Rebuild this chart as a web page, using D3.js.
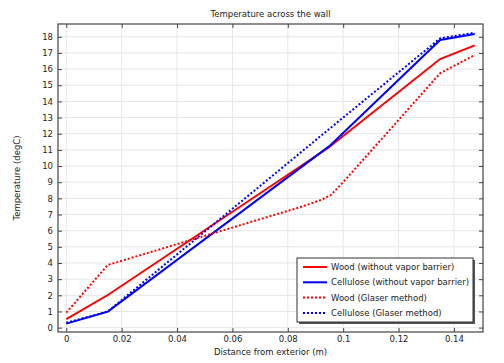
<!DOCTYPE html>
<html>
<head>
<meta charset="utf-8">
<script src="https://cdn.jsdelivr.net/npm/d3@7"></script>
<style>
  body { margin: 0; background: #fff; }
  text { font-family: "DejaVu Sans", sans-serif; fill: #222; }
</style>
</head>
<body>
<svg id="chart" width="504" height="363"></svg>
<script>
// --- data
const xTicks = [0, 0.02, 0.04, 0.06, 0.08, 0.1, 0.12, 0.14];
const yTicks = d3.range(0, 19);

const woodX = [0, 0.015, 0.095, 0.135, 0.1475];
const woodT = [0.52, 2.02, 11.18, 16.62, 17.47];

const celluloseX = [0, 0.015, 0.095, 0.135, 0.1475];
const celluloseT = [0.25, 0.99, 11.23, 17.8, 18.17];

const woodGlaserX = [0, 0.015, 0.0844, 0.092, 0.0955, 0.1, 0.135, 0.1475];
const woodGlaserT = [0.93, 3.88, 7.45, 7.9, 8.2, 9.0, 15.74, 16.87];

const celluloseGlaserX = [0, 0.015, 0.095, 0.135, 0.1475];
const celluloseGlaserT = [0.3, 1.0, 12.3, 17.9, 18.25];

const seriesNames = [
    'Wood (without vapor barrier)',
    'Cellulose (without vapor barrier)',
    'Wood (Glaser method)',
    'Cellulose (Glaser method)'
];
const seriesColors = ['#ff0000', '#0000ff', '#ff0000', '#0000ff'];
const seriesDotted = [false, false, true, true];

function drawChart() {
    const svg = d3.select('#chart');
    const m = { left: 58, right: 483, top: 24, bottom: 332 };

    const x = d3.scaleLinear().domain([-0.003, 0.1505]).range([m.left, m.right]);
    const y = d3.scaleLinear().domain([-0.27, 18.79]).range([m.bottom, m.top]);

    // grid
    const grid = svg.append('g').attr('stroke', '#e6e6e6').attr('stroke-width', 1);
    grid.selectAll('.gx').data(xTicks).enter().append('line')
        .attr('x1', d => x(d)).attr('x2', d => x(d))
        .attr('y1', m.top).attr('y2', m.bottom);
    grid.selectAll('.gy').data(yTicks).enter().append('line')
        .attr('x1', m.left).attr('x2', m.right)
        .attr('y1', d => y(d)).attr('y2', d => y(d));

    // series
    const all = [
        [woodX, woodT],
        [celluloseX, celluloseT],
        [woodGlaserX, woodGlaserT],
        [celluloseGlaserX, celluloseGlaserT]
    ];
    const lineFn = d3.line().x(d => x(d[0])).y(d => y(d[1]));
    svg.append('clipPath').attr('id', 'clip')
        .append('rect').attr('x', m.left).attr('y', m.top)
        .attr('width', m.right - m.left).attr('height', m.bottom - m.top);

    const plot = svg.append('g').attr('clip-path', 'url(#clip)');
    all.forEach((s, i) => {
        const pts = s[0].map((v, k) => [v, s[1][k]]);
        plot.append('path')
            .datum(pts)
            .attr('fill', 'none')
            .attr('stroke', seriesColors[i])
            .attr('stroke-width', 2)
            .attr('stroke-dasharray', seriesDotted[i] ? '2,2' : null)
            .attr('d', lineFn);
    });

    // axes with inner ticks on all four sides
    const tickLen = 4;
    const axB = d3.axisBottom(x).tickValues(xTicks).tickSizeInner(-tickLen).tickSizeOuter(0).tickPadding(4)
        .tickFormat(d => d === 0 ? '0' : d3.format('.2~f')(d));
    const axT = d3.axisTop(x).tickValues(xTicks).tickSizeInner(-tickLen).tickSizeOuter(0).tickFormat('');
    const axL = d3.axisLeft(y).tickValues(yTicks).tickSizeInner(-tickLen).tickSizeOuter(0).tickPadding(5);
    const axR = d3.axisRight(y).tickValues(yTicks).tickSizeInner(-tickLen).tickSizeOuter(0).tickFormat('');

    const styleAxis = g => {
        g.select('.domain').remove();
        g.selectAll('line').attr('stroke', '#444');
        g.selectAll('text').attr('font-size', 8.5).attr('fill', '#222')
            .style('font-family', '"DejaVu Sans", sans-serif');
    };
    svg.append('g').attr('transform', `translate(0,${m.bottom})`).call(axB).call(styleAxis);
    svg.append('g').attr('transform', `translate(0,${m.top})`).call(axT).call(styleAxis);
    svg.append('g').attr('transform', `translate(${m.left},0)`).call(axL).call(styleAxis);
    svg.append('g').attr('transform', `translate(${m.right},0)`).call(axR).call(styleAxis);

    // frame
    svg.append('rect')
        .attr('x', m.left).attr('y', m.top)
        .attr('width', m.right - m.left).attr('height', m.bottom - m.top)
        .attr('fill', 'none').attr('stroke', '#444').attr('stroke-width', 1.2);

    // titles
    svg.append('text').attr('x', (m.left + m.right) / 2).attr('y', 17)
        .attr('text-anchor', 'middle').attr('font-size', 8.5).text('Temperature across the wall');
    svg.append('text').attr('x', (m.left + m.right) / 2).attr('y', 355)
        .attr('text-anchor', 'middle').attr('font-size', 8.5).text('Distance from exterior (m)');
    svg.append('text')
        .attr('transform', `translate(20,${(m.top + m.bottom) / 2}) rotate(-90)`)
        .attr('text-anchor', 'middle').attr('font-size', 8.5).text('Temperature (degC)');

    // legend
    const lg = { x: 297, y: 258, w: 176, h: 64 };
    const legend = svg.append('g');
    legend.append('rect').attr('x', lg.x + 2).attr('y', lg.y + 2)
        .attr('width', lg.w).attr('height', lg.h).attr('fill', '#555');
    legend.append('rect').attr('x', lg.x).attr('y', lg.y)
        .attr('width', lg.w).attr('height', lg.h)
        .attr('fill', '#fff').attr('stroke', '#333').attr('stroke-width', 1);
    seriesNames.forEach((name, i) => {
        const yy = lg.y + 9 + i * 15.3;
        legend.append('line')
            .attr('x1', lg.x + 6).attr('x2', lg.x + 30)
            .attr('y1', yy).attr('y2', yy)
            .attr('stroke', seriesColors[i]).attr('stroke-width', 2)
            .attr('stroke-dasharray', seriesDotted[i] ? '2,2' : null);
        legend.append('text').attr('x', lg.x + 34).attr('y', yy + 3)
            .attr('font-size', 8.5).text(name);
    });
}

drawChart();
</script>
</body>
</html>
